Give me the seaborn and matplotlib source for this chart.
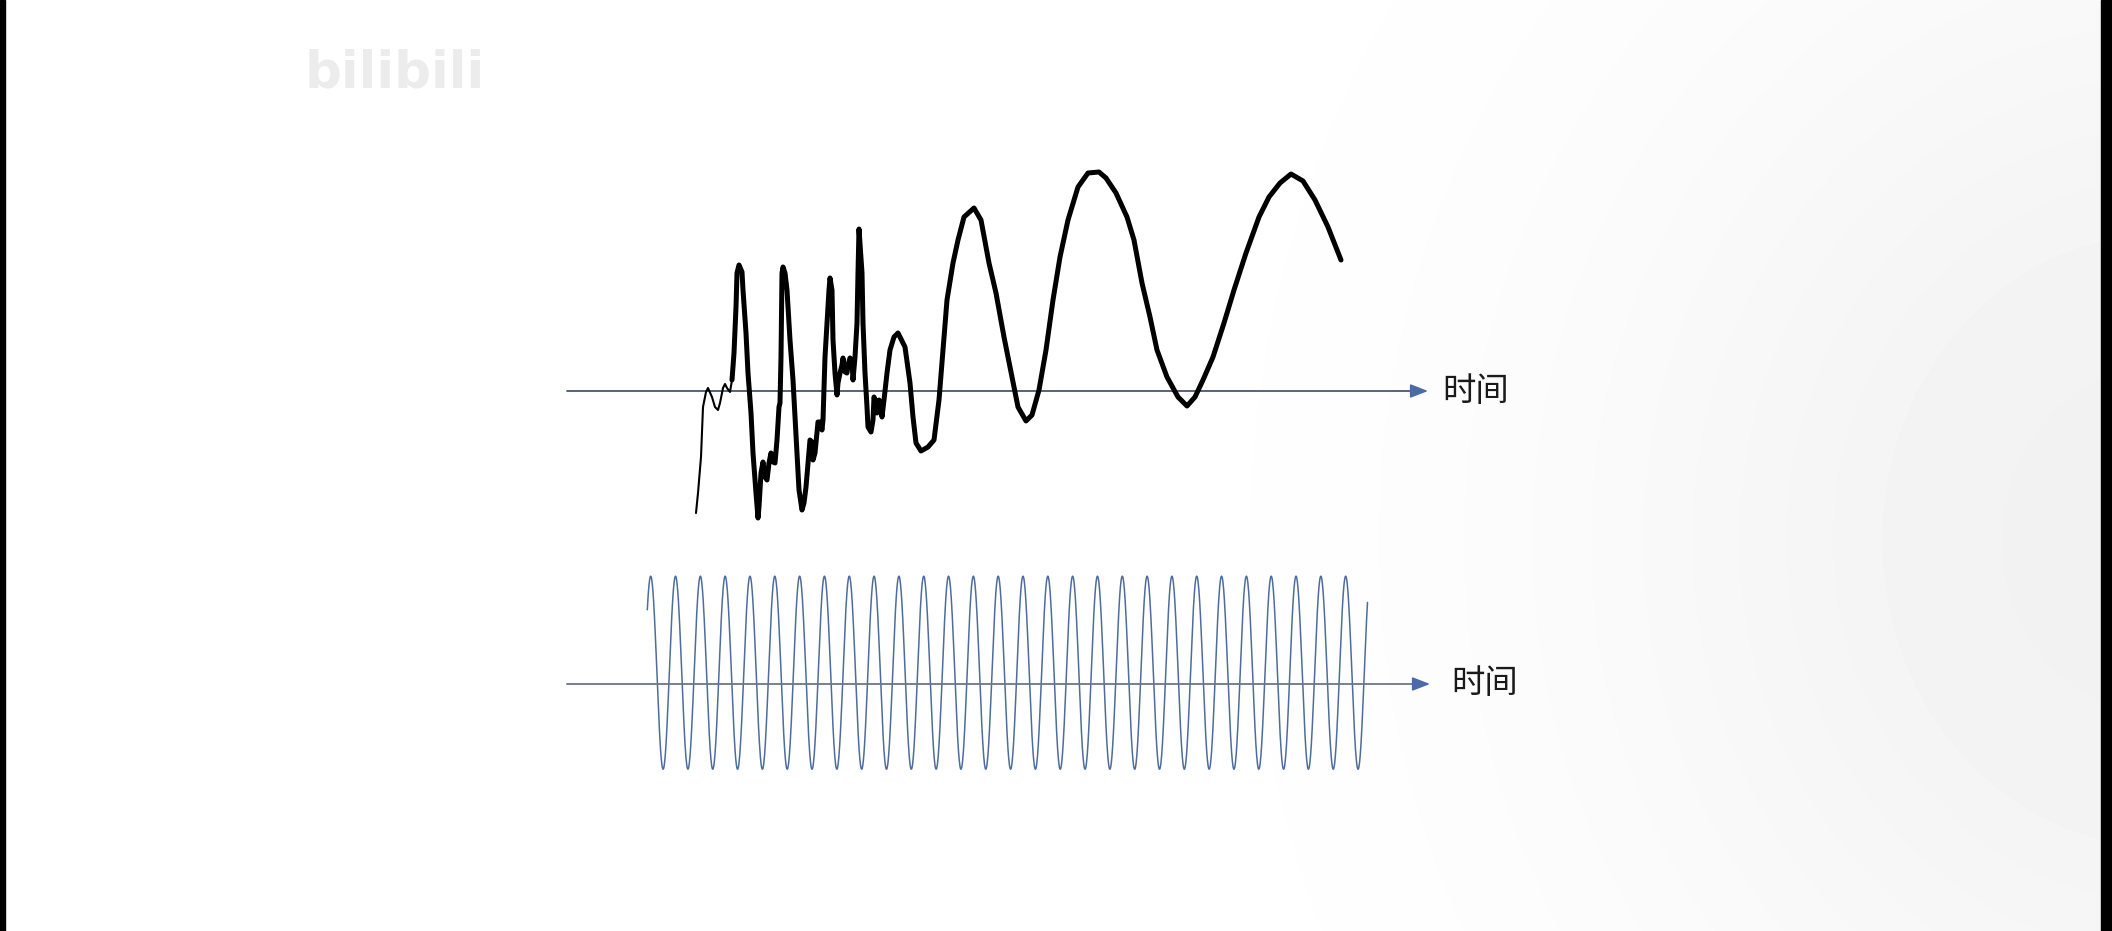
import numpy as np
import pandas as pd
import matplotlib
matplotlib.use("Agg")
import matplotlib.pyplot as plt
import seaborn as sns

# ---------------- data ----------------
# Hand-drawn signal (top): time along the axis, amplitude above the axis
top_time = [129, 131, 134, 136, 139, 141, 145, 148, 151, 153, 156, 158, 160, 163,
            165, 167, 169, 170, 172, 175, 176, 179, 181, 184, 186, 189, 191, 192,
            194, 196, 198, 200, 202, 204, 206, 208, 210, 212, 213, 214, 215, 216,
            218, 220, 223, 226, 228, 230, 232, 235, 237, 239, 241, 243, 245, 246,
            248, 250, 251, 253, 255, 256, 258, 260, 262, 263, 265, 266, 268, 270,
            271, 273, 275, 276, 278, 280, 281, 283, 285, 286, 288, 290, 291, 292,
            295, 296, 298, 300, 301, 304, 306, 307, 309, 310, 312, 314, 315, 317,
            320, 323, 327, 331, 338, 343, 346, 349, 354, 361, 367, 372, 376, 380,
            386, 391, 397, 407, 414, 422, 429, 437, 445, 451, 459, 465, 472, 479,
            486, 493, 501, 511, 521, 532, 539, 549, 560, 567, 575, 583, 590, 600,
            611, 620, 628, 636, 646, 657, 667, 679, 692, 702, 713, 724, 736, 748,
            761, 774]
top_amp = [-122, -102, -66, -16, -1, 3, -6, -16, -19, -12, 3, 7, 3, -1,
           11, 38, 84, 118, 126, 119, 101, 58, 18, -22, -62, -102, -127, -116,
           -82, -71, -86, -89, -72, -62, -71, -72, -49, -16, -12, 34, 118, 124,
           118, 101, 51, 11, -26, -62, -99, -119, -112, -96, -72, -49, -51, -69,
           -62, -42, -31, -31, -39, -29, 34, 68, 101, 113, 101, 51, 18, -4,
           8, 18, 26, 33, 19, 18, 26, 33, 31, 11, 34, 68, 118, 162,
           118, 68, 18, -16, -36, -41, -29, -6, -12, -22, -9, -16, -26, -9,
           18, 41, 54, 58, 44, 8, -26, -52, -60, -56, -49, -9, 41, 91,
           128, 151, 174, 183, 171, 128, 98, 54, 14, -16, -30, -24, 1, 41,
           91, 134, 171, 204, 218, 219, 213, 198, 174, 151, 108, 74, 41, 14,
           -6, -15, -6, 11, 34, 68, 101, 138, 174, 194, 208, 217, 210, 191,
           164, 131]
thin_until = 14          # the pen stroke is thin for the first points

# Pure tone (bottom)
wave_start = 80.3
wave_end = 800.5
wave_first_peak = 83.7
wave_period = 24.82
wave_amplitude = 96.5
wave_center = 11.3

axis_label = "时间"
axis_top_tip = 861
axis_bottom_tip = 863
watermark = "bilibili"

# ---------------- style ----------------
sns.set_theme(style="white")
plt.rcParams['font.family'] = ['Noto Sans CJK SC', 'DejaVu Sans']

W, H, DPI = 2112, 931, 100
fig = plt.figure(figsize=(W / DPI, H / DPI), dpi=DPI)

# background (slide with soft vignette on the right, black video borders)
bg = fig.add_axes([0, 0, 1, 1])
bg.set_xlim(0, W)
bg.set_ylim(H, 0)
yy, xx = np.mgrid[0:H, 0:W]
d = np.hypot((xx - 2160) / 1.0, (yy - 540) / 1.1)
shade = 1 - 0.055 * np.exp(-(d / 560) ** 2)
bg.imshow(shade, cmap="gray", vmin=0, vmax=1, extent=(0, W, H, 0), aspect="auto",
          interpolation="bilinear")
bg.axvspan(0, 5, color="black")
bg.axvspan(2101, W, color="black")
bg.text(305, 74, watermark, fontsize=37, fontweight="bold", color="#ececec",
        family="DejaVu Sans", va="center", ha="left")
bg.set_axis_off()

# top panel
ax1 = fig.add_axes([0, (H - 560) / H, 1, 460 / H])
ax1.set_xlim(-567, W - 567)
ax1.set_ylim(-169, 291)
ax1.patch.set_alpha(0)

df_top = pd.DataFrame({"time": top_time, "amp": top_amp})
ax1.plot([0, axis_top_tip - 12], [0, 0], color="#3c4866", lw=1.2, zorder=1)
ax1.annotate("", xy=(axis_top_tip, 0), xytext=(axis_top_tip - 13, 0),
             arrowprops=dict(arrowstyle="-|>,head_length=0.9,head_width=0.35",
                             color="#4a6aa8", lw=1.2, shrinkA=0, shrinkB=0))
sns.lineplot(data=df_top.iloc[:thin_until + 1], x="time", y="amp", sort=False,
             estimator=None, color="black", lw=1.5, ax=ax1,
             solid_capstyle="round", solid_joinstyle="round", zorder=3)
sns.lineplot(data=df_top.iloc[thin_until:], x="time", y="amp", sort=False,
             estimator=None, color="black", lw=3.6, ax=ax1,
             solid_capstyle="round", solid_joinstyle="round", zorder=3)
ax1.text(axis_top_tip + 14, 0, axis_label, fontsize=24, color="#1a1a1a",
         va="center", ha="left")
ax1.set_axis_off()

# bottom panel
ax2 = fig.add_axes([0, (H - 830) / H, 1, 270 / H])
ax2.set_xlim(-567, W - 567)
ax2.set_ylim(-146, 124)
ax2.patch.set_alpha(0)

t = np.linspace(wave_start, wave_end, 3000)
y = wave_center + wave_amplitude * np.cos(2 * np.pi * (t - wave_first_peak) / wave_period)
df_bot = pd.DataFrame({"time": t, "amp": y})
sns.lineplot(data=df_bot, x="time", y="amp", sort=False, estimator=None,
             color="#4e6d9c", lw=1.1, ax=ax2, zorder=2)
ax2.plot([0, axis_bottom_tip - 12], [0, 0], color="#6a7689", lw=1.3, zorder=3)
ax2.annotate("", xy=(axis_bottom_tip, 0), xytext=(axis_bottom_tip - 13, 0),
             arrowprops=dict(arrowstyle="-|>,head_length=0.9,head_width=0.35",
                             color="#4a6aa8", lw=1.2, shrinkA=0, shrinkB=0))
ax2.text(axis_bottom_tip + 21, 0, axis_label, fontsize=24, color="#1a1a1a",
         va="center", ha="left")
ax2.set_axis_off()

fig.savefig("out.png", dpi=DPI)
